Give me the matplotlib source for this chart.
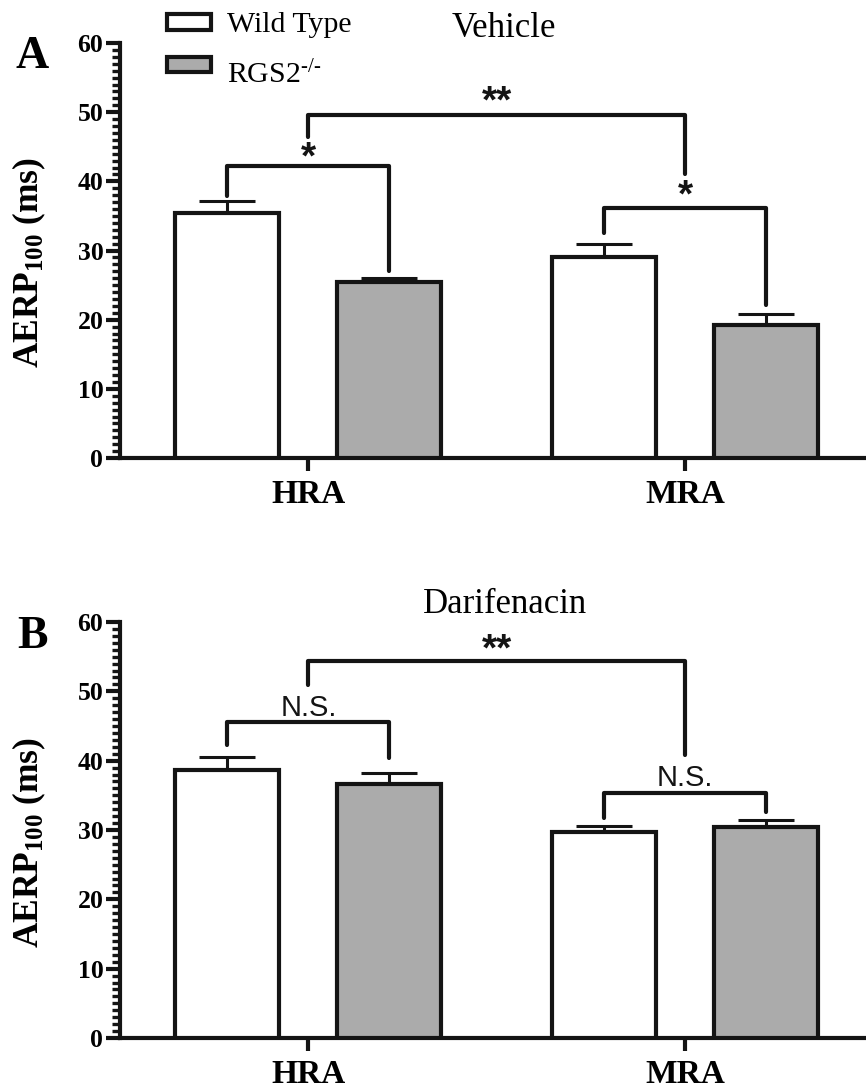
import matplotlib
matplotlib.use("Agg")
import matplotlib.pyplot as plt
import numpy as np
from matplotlib.patches import Rectangle
from matplotlib.ticker import MultipleLocator

plt.rcParams["font.family"] = ["Liberation Serif", "DejaVu Serif"]
plt.rcParams["mathtext.fontset"] = "custom"
plt.rcParams["mathtext.rm"] = "Liberation Serif"
plt.rcParams["mathtext.bf"] = "Liberation Serif:bold"
plt.rcParams["mathtext.it"] = "Liberation Serif:italic"

# ---- data ----
regions = ["HRA", "MRA"]
groups = ["Wild Type", "RGS2$^{\\text{-/-}}$"]

vehicle_wt = [35.4, 29.0]
vehicle_wt_sem = [1.8, 2.0]
vehicle_ko = [25.4, 19.2]
vehicle_ko_sem = [0.65, 1.6]

darif_wt = [38.7, 29.7]
darif_wt_sem = [1.8, 0.9]
darif_ko = [36.6, 30.4]
darif_ko_sem = [1.6, 1.1]

# significance brackets: (left end, right end, left foot, top, right foot, label, label baseline)
# ends: 'b0'..'b3' = bars HRA-WT, HRA-KO, MRA-WT, MRA-KO; 'g0'/'g1' = group centres
vehicle_brackets = [
    ("b0", "b1", 37.9, 42.2, 27.1, "*", 41.8),
    ("g0", "g1", 46.4, 49.6, 41.0, "**", 50.0),
    ("b2", "b3", 32.5, 36.1, 22.1, "*", 36.3),
]
darif_brackets = [
    ("b0", "b1", 42.3, 45.6, 40.4, "N.S.", 46.4),
    ("g0", "g1", 50.9, 54.4, 40.8, "**", 54.5),
    ("b2", "b3", 31.7, 35.4, 32.6, "N.S.", 36.4),
]

W, H = 866, 1089
fig = plt.figure(figsize=(W / 100, H / 100), dpi=100)

EDGE = "#141414"
GRAY = "#ababab"
LW = 3.0
bar_w = 0.276
off = 0.215
x = np.arange(len(regions))


def xpos(key):
    kind, i = key[0], int(key[1:])
    if kind == "g":
        return x[i]
    grp, sub = divmod(i, 2)
    return x[grp] + (-off if sub == 0 else off)


def panel(rect, wt, wt_sem, ko, ko_sem, brackets):
    ax = fig.add_axes(rect)
    ax.bar(x - off, wt, bar_w, color="white", edgecolor=EDGE, linewidth=LW, zorder=3)
    ax.bar(x + off, ko, bar_w, color=GRAY, edgecolor=EDGE, linewidth=LW, zorder=3)
    for xs, v, s in ((x - off, wt, wt_sem), (x + off, ko, ko_sem)):
        ax.errorbar(xs, v, yerr=[np.zeros(len(v)), s], fmt="none", ecolor=EDGE,
                    elinewidth=2.2, capsize=20, capthick=2.2, zorder=2)
    for a, b, y1, top, y2, lab, ly in brackets:
        xa, xb = xpos(a), xpos(b)
        ax.plot([xa, xa, xb, xb], [y1, top, top, y2], color=EDGE, lw=LW,
                solid_capstyle="round", solid_joinstyle="round", zorder=4)
        xm = (xa + xb) / 2
        if lab.startswith("*"):
            ax.text(xm, ly, lab, ha="center", va="baseline", color=EDGE,
                    family="Liberation Sans", fontweight="bold", fontsize=28)
        else:
            ax.text(xm, ly, lab, ha="center", va="baseline", color=EDGE,
                    family="Liberation Sans", fontsize=21)
    ax.set_xlim(-0.5, 1.48)
    ax.set_ylim(0, 60)
    for sp in ("top", "right"):
        ax.spines[sp].set_visible(False)
    for sp in ("left", "bottom"):
        ax.spines[sp].set_linewidth(LW)
        ax.spines[sp].set_color(EDGE)
    ax.yaxis.set_major_locator(MultipleLocator(10))
    ax.yaxis.set_minor_locator(MultipleLocator(1))
    ax.tick_params(axis="y", which="major", length=10, width=LW, pad=2,
                   labelsize=18.5, color=EDGE)
    ax.tick_params(axis="y", which="minor", length=6, width=2.4, color=EDGE)
    ax.set_xticks(x)
    ax.set_xticklabels(regions, fontweight="bold", fontsize=24)
    ax.tick_params(axis="x", length=9, width=LW, pad=6, color=EDGE)
    for t in ax.get_yticklabels():
        t.set_fontweight("bold")
    ax.set_ylabel("AERP$_{\\mathbf{100}}$ (ms)", fontweight="bold", fontsize=25.5)
    ax.yaxis.set_label_coords(-0.097, 0.47)
    return ax


def px_rect(left, top, right, bottom):
    return [left / W, 1 - bottom / H, (right - left) / W, (bottom - top) / H]


axA = panel(px_rect(120, 43, 866, 458), vehicle_wt, vehicle_wt_sem,
            vehicle_ko, vehicle_ko_sem, vehicle_brackets)
axB = panel(px_rect(120, 622, 866, 1038), darif_wt, darif_wt_sem,
            darif_ko, darif_ko_sem, darif_brackets)

# panel letters and titles
fig.text(32 / W, 1 - 68 / H, "A", ha="center", va="baseline",
         fontweight="bold", fontsize=33)
fig.text(32 / W, 1 - 648 / H, "B", ha="center", va="baseline",
         fontweight="bold", fontsize=33)
fig.text(452 / W, 1 - 37 / H, "Vehicle", ha="left", va="baseline", fontsize=25)
fig.text(423 / W, 1 - 613 / H, "Darifenacin", ha="left", va="baseline", fontsize=25)

# legend
for (top, bot), face, lab, base in (((14, 30), "white", groups[0], 32),
                                    ((57, 72), GRAY, groups[1], 83)):
    fig.patches.append(Rectangle((167 / W, 1 - bot / H), 44 / W, (bot - top) / H,
                                 transform=fig.transFigure, facecolor=face,
                                 edgecolor=EDGE, linewidth=LW))
    fig.text(227 / W, 1 - base / H, lab, ha="left", va="baseline", fontsize=21.5)

fig.savefig("out.png", dpi=100)
